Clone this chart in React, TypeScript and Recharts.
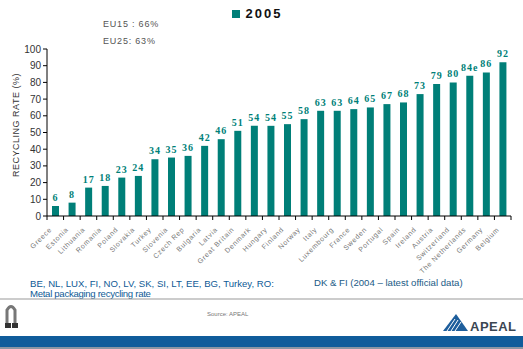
import { BarChart, Bar, XAxis, YAxis, LabelList, Legend } from "recharts";

const countries = [
  "Greece", "Estonia", "Lithuania", "Romania", "Poland", "Slovakia", "Turkey",
  "Slovenia", "Czech Rep", "Bulgaria", "Latvia", "Great Britain", "Denmark",
  "Hungary", "Finland", "Norway", "Italy", "Luxembourg", "France", "Sweden",
  "Portugal", "Spain", "Ireland", "Austria", "Switzerland", "The Netherlands",
  "Germany", "Belgium",
];
const rates2005 = [
  6, 8, 17, 18, 23, 24, 34, 35, 36, 42, 46, 51, 54, 54, 55, 58, 63, 63, 64,
  65, 67, 68, 73, 79, 80, 84, 86, 92,
];
const rateLabels = [
  "6", "8", "17", "18", "23", "24", "34", "35", "36", "42", "46", "51", "54",
  "54", "55", "58", "63", "63", "64", "65", "67", "68", "73", "79", "80",
  "84e", "86", "92",
];
const yTicks = [0, 10, 20, 30, 40, 50, 60, 70, 80, 90, 100];

const data = countries.map((name, i) => ({
  name,
  rate: rates2005[i],
  label: rateLabels[i],
}));

const TEAL = "#007f78";
const BAND = 464 / countries.length;

const CountryTick = (props: any) => {
  const { x, y, payload, index } = props;
  const last = index === countries.length - 1;
  return (
    <g>
      <line x1={x - BAND / 2} x2={x - BAND / 2} y1={y - 8} y2={y - 4} stroke="#000" />
      {last && <line x1={x + BAND / 2} x2={x + BAND / 2} y1={y - 8} y2={y - 4} stroke="#000" />}
      <text
        x={x - 3}
        y={y + 6}
        transform={`rotate(-45 ${x - 3} ${y + 6})`}
        textAnchor="end"
        fontSize={7}
        letterSpacing={0.7}
        fill="#777"
        fontFamily="Arial, Liberation Sans, sans-serif"
      >
        {payload.value}
      </text>
    </g>
  );
};

const renderLegend = () => (
  <div style={{ display: "flex", alignItems: "center", justifyContent: "center" }}>
    <span style={{ width: 8, height: 8, background: TEAL, display: "inline-block", marginRight: 6 }} />
    <span style={{ fontFamily: "Arial, Liberation Sans, sans-serif", fontWeight: "bold", fontSize: 13, letterSpacing: 2, color: "#111" }}>
      2005
    </span>
  </div>
);

export default function App() {
  return (
    <div style={{ position: "absolute", left: 0, top: 0, width: 523, height: 349, background: "#fff", overflow: "hidden" }}>
      <BarChart
        width={523}
        height={349}
        data={data}
        margin={{ top: 34, right: 12, left: 17, bottom: 73 }}
      >
        <Legend
          content={renderLegend}
          verticalAlign="top"
          wrapperStyle={{ position: "absolute", top: 6, left: 200, width: 114 }}
        />
        <XAxis
          dataKey="name"
          interval={0}
          tickLine={false}
          axisLine={{ stroke: "#000" }}
          height={60}
          tick={<CountryTick />}
        />
        <YAxis
          domain={[0, 100]}
          ticks={yTicks}
          width={30}
          axisLine={{ stroke: "#000" }}
          tickLine={{ stroke: "#000" }}
          tickSize={4}
          tick={{ fill: "#333", fontSize: 10, fontFamily: "Arial, Liberation Sans, sans-serif" }}
        />
        <Bar dataKey="rate" fill={TEAL} barSize={7} isAnimationActive={false}>
          <LabelList
            dataKey="label"
            position="top"
            offset={5}
            style={{ fill: TEAL, fontSize: 10, fontWeight: "bold", letterSpacing: 1, fontFamily: "Liberation Serif, Times New Roman, serif" }}
          />
        </Bar>
      </BarChart>

      <svg width={523} height={349} style={{ position: "absolute", left: 0, top: 0, pointerEvents: "none" }}>
        <g fontFamily="Arial, Liberation Sans, sans-serif">
          <text
            x={19}
            y={125}
            transform="rotate(-90 19 125)"
            textAnchor="middle"
            fontSize={9}
            letterSpacing={0.5}
            fill="#333"
          >
            RECYCLING RATE (%)
          </text>

          <text x={103} y={27} fontSize={9} letterSpacing={0.8} fill="#555">EU15 : 66%</text>
          <text x={103} y={44} fontSize={9} letterSpacing={0.8} fill="#555">EU25: 63%</text>

          <text x={30} y={287} fontSize={9.6} fill="#0e5a96">BE, NL, LUX, FI, NO, LV, SK, SI, LT, EE, BG, Turkey, RO:</text>
          <text x={30} y={297} fontSize={9.6} letterSpacing={-0.3} fill="#0e5a96">Metal packaging recycling rate</text>
          <text x={314} y={286} fontSize={9.6} fill="#1a5a86">DK &amp; FI (2004 – latest official data)</text>

          <line x1={0} x2={523} y1={299} y2={299} stroke="#999" strokeWidth={1.2} />
          <text x={207} y={316} fontSize={6} fill="#777">Source: APEAL</text>

          <g>
            <path d="M7 325 L7 310 Q11 303 15 310 L15 325" fill="none" stroke="#777" strokeWidth={3} />
            <rect x={5} y={323} width={6} height={5} fill="#333" />
            <rect x={12} y={323} width={6} height={5} fill="#333" />
          </g>

          <g>
            <path d="M443 331 L456 314 L468 331 Z" fill="#1d5e9c" />
            <path d="M447 331 L455 319 M451 331 L458 320 M455 331 L461 322" stroke="#fff" strokeWidth={1} />
            <text x={470} y={331} fontSize={13} fontWeight="bold" fill="#3b4652" letterSpacing={0.5}>APEAL</text>
          </g>

          <rect x={0} y={336} width={523} height={11} fill="#0f5c9b" />
          <rect x={0} y={347} width={523} height={2} fill="#8a96a4" />
        </g>
      </svg>
    </div>
  );
}
